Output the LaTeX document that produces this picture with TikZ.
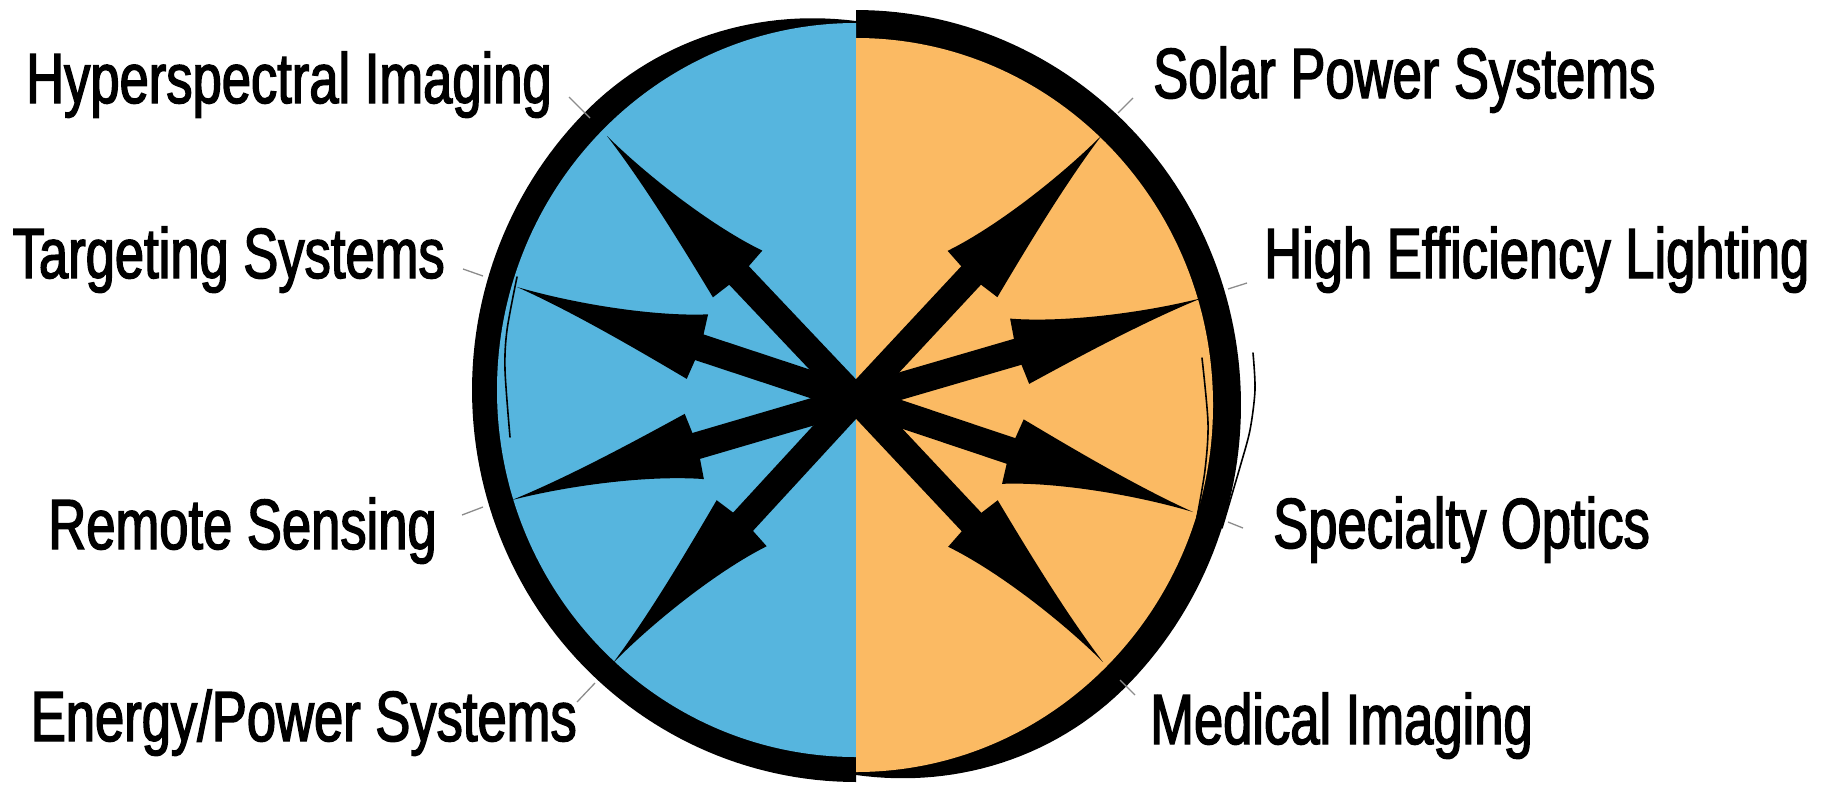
\documentclass[tikz,border=0pt]{standalone}
\usepackage{fontspec}
\setmainfont{Liberation Sans}[FakeStretch=0.74,FakeBold=2]
\usetikzlibrary{calc}
\definecolor{cblue}{RGB}{86,181,222}
\definecolor{corange}{RGB}{251,186,99}
\definecolor{cgray}{RGB}{140,140,140}
\tikzset{
  lbl/.style={inner sep=0pt, font=\fontsize{71}{80}\selectfont},
  leader/.style={draw=cgray, line width=1.3pt},
  shaft/.style={draw=black, line width=27pt, shorten >=187pt, shorten <=-14pt},
  sketch/.style={draw=black, line width=1.6pt, line cap=round},
  head/.pic={\fill[black] (0,0) .. controls (-60,2) and (-140,15) .. (-190,34)
      -- (-192,13.5) -- (-192,-13.5) -- (-190,-34)
      .. controls (-135,-22) and (-60,-6) .. (0,0) -- cycle;},
}
\begin{document}
\begin{tikzpicture}[x=1pt,y=1pt]
\useasboundingbox (0,0) rectangle (1835,-785);
% black crescents
\fill[black] plot[domain=90:270, samples=120]
  ({856+(359+2+23*sin(min(90,2*(\x-90))))*cos(\x)},
   {-390+(367+2+23*sin(min(90,2*(\x-90))))*sin(\x)}) -- cycle;
\fill[black] plot[domain=-90:90, samples=120]
  ({856+(357+3+25*sin(min(90,2*(\x+90))))*cos(\x)},
   {-405+(367+3+25*sin(min(90,2*(\x+90))))*sin(\x)}) -- cycle;
% halves
\fill[cblue] (856,-23) arc[start angle=90, end angle=270, x radius=359, y radius=367] -- cycle;
\fill[corange] (856,-38) arc[start angle=90, end angle=-90, x radius=357, y radius=367] -- cycle;
% sketchy strokes
\draw[sketch] plot[smooth] coordinates {(1253,-353) (1255,-390) (1250,-430) (1240,-467) (1222,-528)};
\draw[sketch] plot[smooth] coordinates {(1202,-358) (1208,-423) (1205,-470) (1197,-517)};
\draw[sketch] plot[smooth] coordinates {(517,-277) (507,-330) (505,-370) (510,-437)};
% arrows
\coordinate (ctr) at (856,-399);
\coordinate (tHS) at (607,-136);
\coordinate (tTG) at (517,-287);
\coordinate (tRS) at (512,-500);
\coordinate (tEP) at (613,-663);
\coordinate (tSP) at (1102,-135);
\coordinate (tHE) at (1202,-298);
\coordinate (tSO) at (1193,-512);
\coordinate (tMI) at (1103,-662);
\foreach \q/\s in {tHS/-1, tTG/-1, tRS/1, tEP/1, tSP/1, tHE/1, tSO/-1, tMI/-1}{
  \draw[shaft] (ctr) -- (\q);
  \path let \p1=($(\q)-(ctr)$), \n1={atan2(\y1,\x1)} in (\q) pic[rotate=\n1, yscale=\s]{head};
}
% labels
\node[lbl, anchor=base east] (lHS) at (552,-103) {Hyperspectral Imaging};
\node[lbl, anchor=base east] (lTG) at (445,-278) {Targeting Systems};
\node[lbl, anchor=base east] (lRS) at (437,-549) {Remote Sensing};
\node[lbl, anchor=base east] (lEP) at (577,-741) {Energy/Power Systems};
\node[lbl, anchor=base west] (lSP) at (1153,-98) {Solar Power Systems};
\node[lbl, anchor=base west] (lHE) at (1264,-278) {High Efficiency Lighting};
\node[lbl, anchor=base west] (lSO) at (1273,-548) {Specialty Optics};
\node[lbl, anchor=base west] (lMI) at (1150,-744) {Medical Imaging};
% leader lines
\coordinate (aHS) at (569,-97);   \coordinate (bHS) at (590,-118);
\coordinate (aTG) at (463,-269);  \coordinate (bTG) at (483,-276);
\coordinate (aRS) at (462,-515);  \coordinate (bRS) at (483,-507);
\coordinate (aEP) at (577,-702);  \coordinate (bEP) at (595,-683);
\coordinate (aSP) at (1133,-98);  \coordinate (bSP) at (1118,-113);
\coordinate (aHE) at (1247,-283); \coordinate (bHE) at (1228,-289);
\coordinate (aSO) at (1243,-528); \coordinate (bSO) at (1228,-522);
\coordinate (aMI) at (1135,-695); \coordinate (bMI) at (1120,-680);
\foreach \u in {HS,TG,RS,EP,SP,HE,SO,MI}{
  \draw[leader] (a\u) -- (b\u);
}
\end{tikzpicture}
\end{document}
